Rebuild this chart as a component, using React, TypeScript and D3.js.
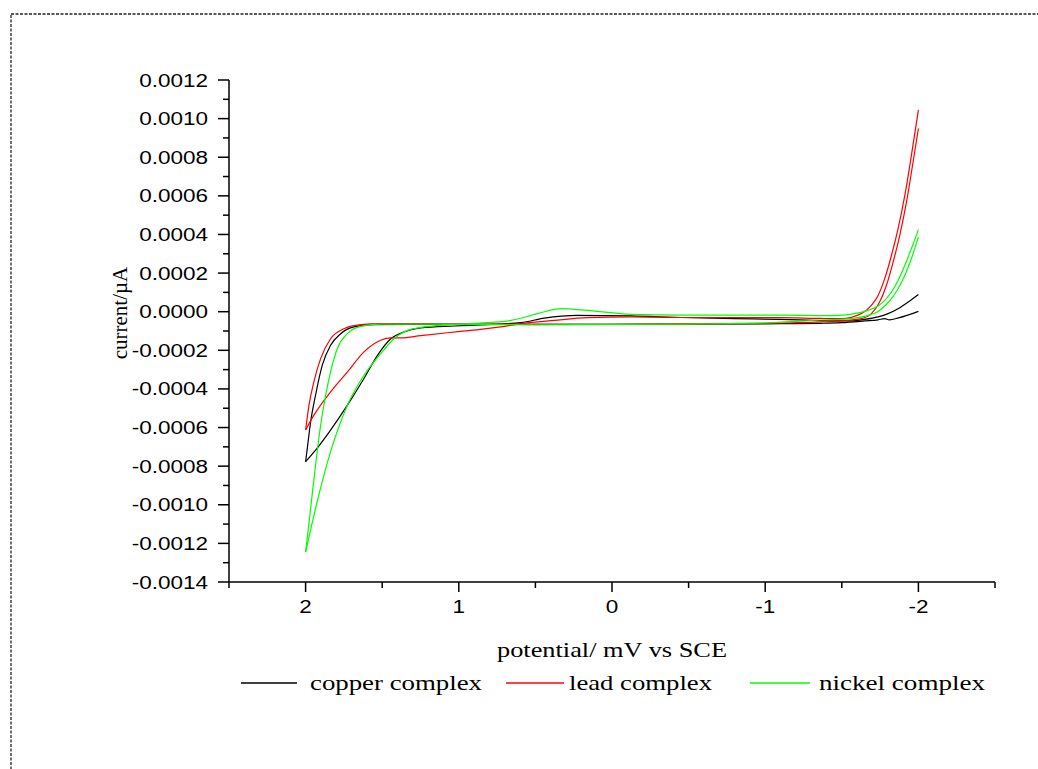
import React from "react";
import * as d3 from "d3";

type Pt = [number, number];

// potential (V) / current pairs, two sweep branches per complex
const copperScanA: Pt[] = [
  [2.0, -0.000777], [1.935, -0.000717], [1.837, -0.000613], [1.727, -0.000484],
  [1.619, -0.000346], [1.531, -0.000226], [1.444, -0.00014], [1.358, -0.000105],
  [1.248, -0.000084], [1.031, -0.000074], [0.812, -0.000067], [0.595, -0.000057],
  [0.442, -0.000033], [0.224, -0.000019], [-0.124, -0.000022], [-0.45, -0.00003],
  [-0.8, -0.000036], [-1.1, -0.00004], [-1.366, -0.000046], [-1.54, -0.000048],
  [-1.649, -0.00004], [-1.737, -0.000027], [-1.802, -0.00001], [-1.867, 0.0000155],
  [-1.933, 0.00005], [-2.0, 0.000089],
];
const copperScanB: Pt[] = [
  [2.0, -0.000777], [1.989, -0.000708], [1.967, -0.00057], [1.935, -0.000432],
  [1.891, -0.000277], [1.837, -0.000174], [1.771, -0.000114], [1.684, -0.000079],
  [1.554, -0.000067], [1.2, -0.000066], [0.6, -0.000066], [0.0, -0.000065],
  [-0.6, -0.000064], [-1.1, -0.000062], [-1.366, -0.00006], [-1.497, -0.000057],
  [-1.649, -0.000048], [-1.737, -0.000042], [-1.78, -0.000036], [-1.81, -0.000042],
  [-1.87, -0.000032], [-1.94, -0.000015], [-2.0, 0.0000016],
];

const leadScanA: Pt[] = [
  [2.0, -0.000613], [1.946, -0.000536], [1.837, -0.000415], [1.727, -0.000312],
  [1.619, -0.000208], [1.51, -0.000148], [1.444, -0.000136], [1.379, -0.000136],
  [1.248, -0.000124], [1.074, -0.000109], [0.922, -0.000097], [0.725, -0.000079],
  [0.595, -0.000062], [0.377, -0.000045], [0.159, -0.000031], [-0.124, -0.000027],
  [-0.45, -0.00003], [-1.1, -0.000031], [-1.366, -0.000035], [-1.497, -0.000036],
  [-1.627, -0.00001], [-1.693, 0.0000326], [-1.737, 0.0000842], [-1.78, 0.000171],
  [-1.824, 0.000291], [-1.867, 0.000429], [-1.911, 0.000601], [-1.954, 0.000808],
  [-2.0, 0.001045],
];
const leadScanB: Pt[] = [
  [2.0, -0.000613], [1.978, -0.000484], [1.946, -0.000363], [1.902, -0.000243],
  [1.837, -0.00014], [1.75, -0.000088], [1.64, -0.000067], [1.51, -0.000062],
  [1.0, -0.000064], [0.5, -0.000065], [0.0, -0.000065], [-0.5, -0.000063],
  [-1.0, -0.00006], [-1.366, -0.000053], [-1.497, -0.000048], [-1.627, -0.000036],
  [-1.693, -0.00001], [-1.747, 0.00005], [-1.791, 0.000136], [-1.835, 0.000257],
  [-1.878, 0.000394], [-1.922, 0.000567], [-1.965, 0.000774], [-2.0, 0.000949],
];

const nickelScanA: Pt[] = [
  [2.0, -0.001245], [1.924, -0.000983], [1.837, -0.000725], [1.727, -0.000484],
  [1.619, -0.000329], [1.51, -0.000217], [1.423, -0.00014], [1.335, -0.000097],
  [1.227, -0.000079], [0.922, -0.000062], [0.66, -0.000045], [0.486, -0.00001],
  [0.333, 0.0000155], [0.159, 0.0000067], [-0.124, -0.000014], [-0.45, -0.000018],
  [-1.1, -0.000018], [-1.366, -0.00002], [-1.475, -0.000019], [-1.584, -0.0000103],
  [-1.671, 0.0000067], [-1.737, 0.0000295], [-1.78, 0.0000584], [-1.824, 0.000102],
  [-1.867, 0.000162], [-1.911, 0.000239], [-1.954, 0.000326], [-2.0, 0.000425],
];
const nickelScanB: Pt[] = [
  [2.0, -0.001245], [1.967, -0.001018], [1.935, -0.000794], [1.902, -0.000588],
  [1.869, -0.000432], [1.837, -0.000312], [1.793, -0.000191], [1.727, -0.000114],
  [1.64, -0.000076], [1.51, -0.000064], [1.0, -0.000066], [0.5, -0.000068],
  [0.0, -0.000066], [-0.5, -0.000064], [-1.0, -0.000058], [-1.366, -0.000043],
  [-1.475, -0.00004], [-1.584, -0.000033], [-1.671, -0.000019], [-1.737, 0.0000016],
  [-1.78, 0.0000295], [-1.824, 0.0000672], [-1.867, 0.000119], [-1.911, 0.000188],
  [-1.954, 0.000274], [-2.0, 0.000386],
];

const seriesNames = ["copper complex", "lead complex", "nickel complex"];
const seriesColors = ["#000000", "#ff0000", "#00ff00"];
const seriesScans = [
  [copperScanA, copperScanB],
  [leadScanA, leadScanB],
  [nickelScanA, nickelScanB],
];

const xTicks = [2, 1, 0, -1, -2];
const xMinorTicks = [2.5, 1.5, 0.5, -0.5, -1.5, -2.5];
const yTicks = d3.range(-14, 13, 2).map((v) => v / 10000);
const yMinorTicks = d3.range(-13, 12, 2).map((v) => v / 10000);

const W = 1038;
const H = 769;
const plot = { left: 229, right: 995, top: 80, bottom: 582 };

export default function App() {
  const x = d3.scaleLinear().domain([2.5, -2.5]).range([plot.left, plot.right]);
  const y = d3.scaleLinear().domain([-0.0014, 0.0012]).range([plot.bottom, plot.top]);

  const line = d3
    .line<Pt>()
    .x((d) => x(d[0]))
    .y((d) => y(d[1]))
    .curve(d3.curveMonotoneX);

  const sans = "'Liberation Sans', Arial, sans-serif";
  const serif = "'Liberation Serif', 'Times New Roman', serif";

  // legend line / label spots
  const legend = [
    { x1: 241, x2: 297, tx: 310, tw: 172 },
    { x1: 506, x2: 564, tx: 569, tw: 143 },
    { x1: 750, x2: 810, tx: 819, tw: 166 },
  ];

  return (
    <svg
      width={W}
      height={H}
      style={{ position: "absolute", left: 0, top: 0, background: "#fff" }}
    >
      {/* dashed frame */}
      <rect
        x={11}
        y={14}
        width={W + 20}
        height={H + 20}
        fill="none"
        stroke="#222"
        strokeWidth={1.3}
        strokeDasharray="3,1.5"
      />

      {/* curves */}
      {seriesScans.map((scans, i) =>
        scans.map((s, j) => (
          <path
            key={`${i}-${j}`}
            d={line(s) || ""}
            fill="none"
            stroke={seriesColors[i]}
            strokeWidth={1.2}
          />
        ))
      )}

      {/* y axis */}
      <line x1={plot.left} x2={plot.left} y1={plot.top} y2={plot.bottom} stroke="#000" strokeWidth={1.5} />
      {yTicks.map((t) => (
        <g key={`yt${t}`}>
          <line x1={plot.left - 11} x2={plot.left} y1={y(t)} y2={y(t)} stroke="#000" strokeWidth={1.5} />
          <text
            transform={`translate(${plot.left - 21},${y(t) + 6.5}) scale(1.25,1)`}
            textAnchor="end"
            fontFamily={sans}
            fontSize={18}
            fill="#000"
          >
            {t.toFixed(4).replace("-0.0000", "0.0000")}
          </text>
        </g>
      ))}
      {yMinorTicks.map((t) => (
        <line key={`ym${t}`} x1={plot.left - 6} x2={plot.left} y1={y(t)} y2={y(t)} stroke="#000" strokeWidth={1.5} />
      ))}

      {/* x axis */}
      <line x1={plot.left} x2={plot.right} y1={plot.bottom} y2={plot.bottom} stroke="#000" strokeWidth={1.5} />
      {xTicks.map((t) => (
        <g key={`xt${t}`}>
          <line x1={x(t)} x2={x(t)} y1={plot.bottom} y2={plot.bottom + 10} stroke="#000" strokeWidth={1.5} />
          <text
            transform={`translate(${x(t)},${plot.bottom + 31}) scale(1.25,1)`}
            textAnchor="middle"
            fontFamily={sans}
            fontSize={18}
            fill="#000"
          >
            {t}
          </text>
        </g>
      ))}
      {xMinorTicks.map((t) => (
        <line key={`xm${t}`} x1={x(t)} x2={x(t)} y1={plot.bottom} y2={plot.bottom + 6} stroke="#000" strokeWidth={1.5} />
      ))}

      {/* axis titles */}
      <text
        x={(plot.left + plot.right) / 2}
        y={657}
        textAnchor="middle"
        fontFamily={serif}
        fontSize={21}
        textLength={230}
        lengthAdjust="spacingAndGlyphs"
        fill="#000"
      >
        potential/ mV vs SCE
      </text>
      <text
        transform={`translate(127,${(plot.top + plot.bottom) / 2 - 18}) rotate(-90)`}
        textAnchor="middle"
        fontFamily={serif}
        fontSize={21}
        fill="#000"
      >
        current/µA
      </text>

      {/* legend */}
      {seriesNames.map((name, i) => (
        <g key={name}>
          <line
            x1={legend[i].x1}
            x2={legend[i].x2}
            y1={683}
            y2={683}
            stroke={seriesColors[i]}
            strokeWidth={1.3}
          />
          <text
            x={legend[i].tx}
            y={690}
            fontFamily={serif}
            fontSize={21}
            textLength={legend[i].tw}
            lengthAdjust="spacingAndGlyphs"
            fill="#000"
          >
            {name}
          </text>
        </g>
      ))}
    </svg>
  );
}
